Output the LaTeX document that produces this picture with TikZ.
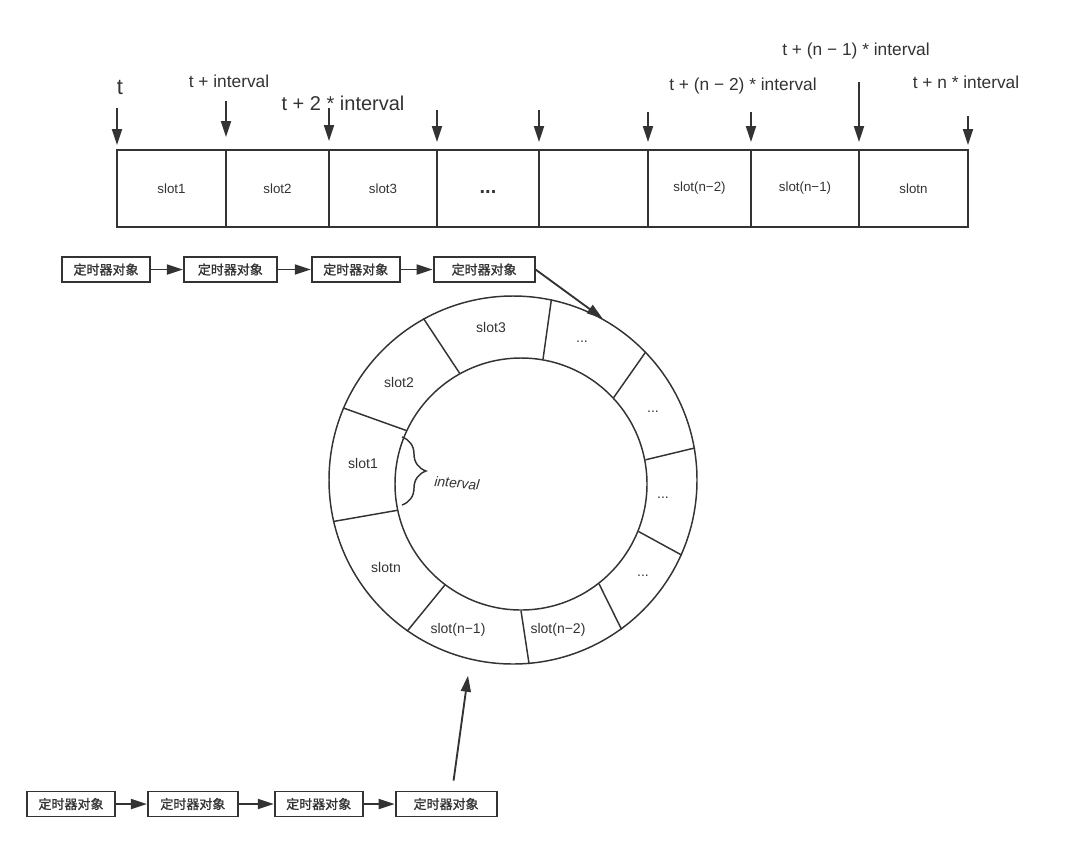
\documentclass[tikz,border=0pt]{standalone}
\usepackage{fontspec}
\setmainfont{Liberation Sans}
\newfontfamily\cjk[FakeBold=1.2]{Noto Sans CJK SC}
\usetikzlibrary{positioning,arrows.meta,decorations.pathreplacing}
\definecolor{ink}{HTML}{333333}

\begin{document}
\begin{tikzpicture}[
		x=0.75pt, y=-0.75pt,
		every node/.style={text=ink},
		slotbox/.style={draw=ink, line width=1.2pt, minimum height=57.75pt, inner sep=0pt, outer sep=0pt, font=\fontsize{10}{12}\selectfont},
		timer/.style={draw=ink, line width=1.4pt, minimum height=18.75pt, inner sep=0pt, font=\cjk\fontsize{9.75}{11}\selectfont},
		tick/.style={font=\fontsize{13}{15}\selectfont},
		cell/.style={font=\fontsize{10.5}{12}\selectfont},
		arr/.style={draw=ink, line width=1.4pt, -{Triangle[length=12pt,width=7.5pt]}}
		]
		\useasboundingbox (0,0) rectangle (1080,843);
		% Slot bar
		\node[slotbox, minimum width=81.75pt] (s1) at (171.5,188.5) {slot1};
		\node[slotbox, minimum width=77.25pt, right=0pt of s1] (s2) {slot2};
		\node[slotbox, minimum width=81pt, right=0pt of s2] (s3) {slot3};
		\node[slotbox, minimum width=76.5pt, right=0pt of s3] (s4) {\fontsize{15}{18}\bfseries\strut ...};
		\node[slotbox, minimum width=81.75pt, right=0pt of s4] (s5) {};
		\node[slotbox, minimum width=77.25pt, right=0pt of s5] (s6) {slot(n−2)};
		\node[slotbox, minimum width=81pt, right=0pt of s6] (s7) {slot(n−1)};
		\node[slotbox, minimum width=81.75pt, right=0pt of s7] (s8) {slotn};
		% Time labels
		\node[font=\fontsize{16.5}{18}\selectfont] (t0) at (120,87) {t};
		\node[tick] (t1) at (229,81) {t + interval};
		\node[tick, font=\fontsize{15}{18}\selectfont] (t2) at (343,103) {t + 2 * interval};
		\node[tick] (tn2) at (743,86) {t + (n − 2) * interval};
		\node[tick] (tn1) at (856,51) {t + (n − 1) * interval};
		\node[tick] (tn) at (966,82) {t + n * interval};
		% Tick arrows
		\foreach \p/\top/\gap in {s1.north west/108/3.75, s2.north west/101/9.75, s3.north west/108/6.75,
			s4.north west/110/6, s5.north west/110/6, s6.north west/112/6, s7.north west/112/6,
			s8.north west/82/6, s8.north east/116/3.75}
			\draw[arr] (\p) ++(0,\top-150) -- ([yshift=\gap pt]\p);
		% Upper timer chain
		\node[timer, minimum width=66pt] (a1) at (106,269.5) {定时器对象};
		\node[timer, minimum width=69.75pt, right=24pt of a1] (a2) {定时器对象};
		\node[timer, minimum width=66pt, right=24.75pt of a2] (a3) {定时器对象};
		\node[timer, minimum width=75.75pt, right=24pt of a3] (a4) {定时器对象};
		\draw[arr] (a1) -- (a2);
		\draw[arr] (a2) -- (a3);
		\draw[arr] (a3) -- (a4);
		% Wheel
		\node[circle, draw=ink, line width=1.1pt, minimum size=276pt, inner sep=0pt] (ring) at (513,480) {};
		\node[circle, draw=ink, line width=1.1pt, minimum size=189pt, inner sep=0pt] (hub) at (521,484) {};
		\foreach \a/\b in {119/119, 78/80, 44/43, 10/11, 336/338, 306/308, 275/270, 235/233, 193/192, 157/155}
			\draw[ink, line width=1.1pt] (ring.\a) -- (hub.\b);
		\node[cell] (c3) at (491,327) {slot3};
		\node[cell] (c2) at (399,382) {slot2};
		\node[cell] (c1) at (363,463) {slot1};
		\node[cell] (cn) at (386,567) {slotn};
		\node[cell] (cn1) at (458,630) {slot(n−1)};
		\node[cell] (cn2) at (558,630) {slot(n−2)};
		\node[cell] (d1) at (582,342) {...};
		\node[cell] (d2) at (653,412) {...};
		\node[cell] (d3) at (663,498) {...};
		\node[cell] (d4) at (643,576) {...};
		% Interval brace
		\draw[ink, line width=1.1pt, decorate, decoration={brace, amplitude=18pt}] (402,437) -- (402,505);
		\node[cell, font=\fontsize{10.5}{12}\itshape\selectfont, rotate=-5] (iv) at (457,483) {interval};
		\draw[arr] (a4.east) -- (ring.61);
		% Lower timer chain
		\node[timer, minimum width=66pt] (b1) at (71,804) {定时器对象};
		\node[timer, minimum width=67.5pt, right=23.25pt of b1] (b2) {定时器对象};
		\node[timer, minimum width=66pt, right=26.25pt of b2] (b3) {定时器对象};
		\node[timer, minimum width=75.75pt, right=23.25pt of b3] (b4) {定时器对象};
		\draw[arr] (b1) -- (b2);
		\draw[arr] (b2) -- (b3);
		\draw[arr] (b3) -- (b4);
		\draw[arr] ([xshift=5.6pt,yshift=7.5pt]b4.north) -- ([xshift=-33.75pt,yshift=-8.25pt]ring.south);
	\end{tikzpicture}
\end{document}
